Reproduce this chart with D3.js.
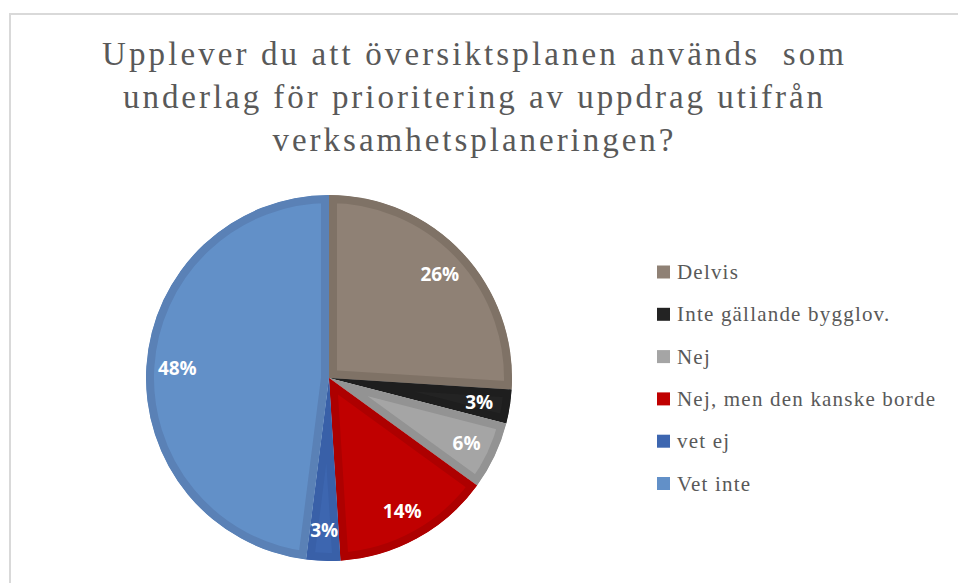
<!DOCTYPE html>
<html>
<meta charset="utf-8">
<script src="https://d3js.org/d3.v7.min.js"></script>
<style>
  body { margin: 0; background: #fff; }
  svg { display: block; }
  .serif { font-family: "Liberation Serif", "Tinos", "Times New Roman", "DejaVu Serif", serif; }
</style>
<body>
<div id="chart"></div>
<script>

    // data (percent of answers)
    var categories = ["Delvis", "Inte gällande bygglov.", "Nej", "Nej, men den kanske borde", "vet ej", "Vet inte"];
    var values = [26, 3, 6, 14, 3, 48];
    var fills = ["#8f8175", "#232323", "#a5a5a5", "#c00000", "#3d66b0", "#6290c8"];
    var edges = ["#7f7266", "#1e1e1e", "#939393", "#ad0000", "#3960a8", "#5a81b6"];
    var titleLines = ["Upplever du att översiktsplanen används  som",
                      "underlag för prioritering av uppdrag utifrån",
                      "verksamhetsplaneringen?"];

    var width = 958, height = 583;
    var cx = 329, cy = 378, radius = 183;

    var svg = d3.select("#chart")
      .append("svg")
        .attr("width", width)
        .attr("height", height);

    // chart frame
    svg.append("rect")
      .attr("x", 10)
      .attr("y", 14)
      .attr("width", width + 20)
      .attr("height", height + 20)
      .attr("fill", "none")
      .attr("stroke", "#d9d9d9")
      .attr("stroke-width", 2);

    // title
    var titleWidths = [742, 700, 401];
    svg.append("g").selectAll("text")
      .data(titleLines)
      .enter()
      .append("text")
        .attr("class", "serif")
        .attr("x", 473)
        .attr("y", function(d, i) { return 65 + i * 43; })
        .attr("text-anchor", "middle")
        .attr("textLength", function(d, i) { return titleWidths[i]; })
        .attr("lengthAdjust", "spacing")
        .style("white-space", "pre")
        .style("font-size", "33px")
        .style("fill", "#595959")
        .text(function(d) { return d; });

    var pie = d3.pie().sort(null).value(function(d) { return d; });
    var arcs = pie(values);
    var arc = d3.arc().innerRadius(0).outerRadius(radius);
    var labelArc = d3.arc().innerRadius(152).outerRadius(152);

    var g = svg.append("g")
      .attr("transform", "translate(" + cx + "," + cy + ")");

    var defs = svg.append("defs");
    defs.selectAll("clipPath")
      .data(arcs)
      .enter()
      .append("clipPath")
        .attr("id", function(d, i) { return "clip" + i; })
      .append("path")
        .attr("d", arc);

    g.selectAll("path.slice")
      .data(arcs)
      .enter()
      .append("path")
        .attr("class", "slice")
        .attr("d", arc)
        .attr("fill", function(d, i) { return fills[i]; })
        .attr("stroke", function(d, i) { return edges[i]; })
        .attr("stroke-width", 16)
        .attr("stroke-linejoin", "miter")
        .attr("clip-path", function(d, i) { return "url(#clip" + i + ")"; });

    g.selectAll("text.pct")
      .data(arcs)
      .enter()
      .append("text")
        .attr("class", "pct")
        .attr("transform", function(d) { return "translate(" + labelArc.centroid(d) + ")"; })
        .attr("text-anchor", "middle")
        .attr("dy", "0.36em")
        .style("font-family", "'Open Sans', sans-serif")
        .style("font-weight", "bold")
        .style("font-size", "19px")
        .style("fill", "#fff")
        .text(function(d) { return d.data + "%"; });

    // legend
    var legend = svg.append("g")
      .attr("transform", "translate(657,272)");
    var items = legend.selectAll("g")
      .data(categories)
      .enter()
      .append("g")
        .attr("transform", function(d, i) { return "translate(0," + (i * 42.3) + ")"; });
    items.append("rect")
      .attr("x", 0)
      .attr("y", -6.5)
      .attr("width", 13)
      .attr("height", 13)
      .attr("fill", function(d, i) { return fills[i]; });
    items.append("text")
      .attr("class", "serif")
      .attr("x", 20)
      .attr("y", 7)
      .style("font-size", "21px")
      .style("letter-spacing", "1.2px")
      .style("fill", "#595959")
      .text(function(d) { return d; });

</script>
</body>
</html>
